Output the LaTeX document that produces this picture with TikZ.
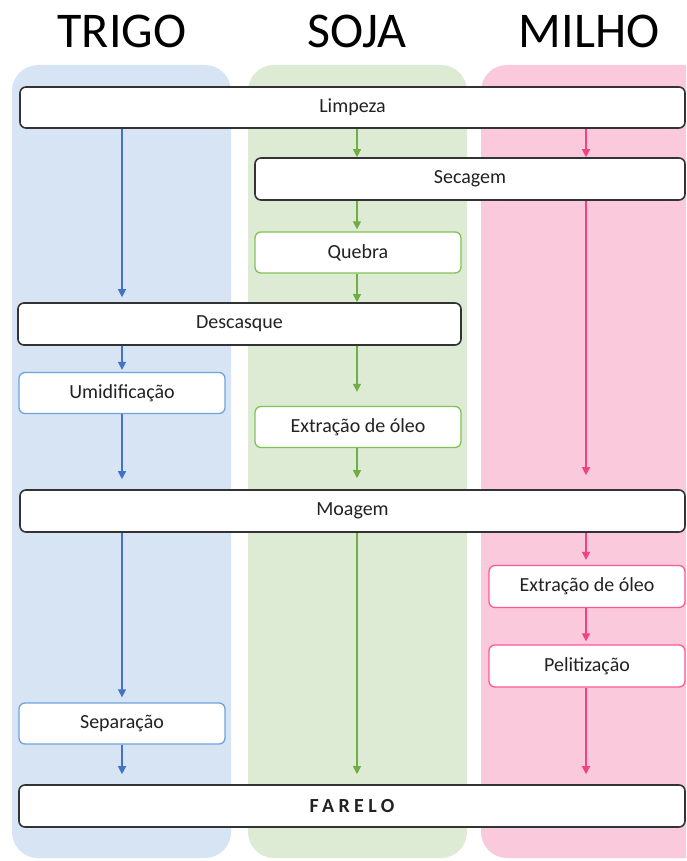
\documentclass[tikz,border=0pt]{standalone}
\usepackage{fontspec}
\setmainfont{Carlito}
\usepackage{tikz}
\usetikzlibrary{arrows.meta}
\definecolor{trigobg}{HTML}{D6E4F3}
\definecolor{sojabg}{HTML}{DDEBD4}
\definecolor{milhobg}{HTML}{FAC9DB}
\definecolor{trigoline}{HTML}{4472C4}
\definecolor{trigoedge}{HTML}{6FA3DC}
\definecolor{sojaline}{HTML}{70AD47}
\definecolor{sojaedge}{HTML}{80C257}
\definecolor{milholine}{HTML}{F2427F}
\definecolor{milhoedge}{HTML}{FF5A92}
\definecolor{boxgray}{HTML}{333333}
\definecolor{textgray}{HTML}{222222}

\begin{document}
\begin{tikzpicture}[x=1pt,y=-1pt,
    lane/.style={rounded corners=26pt},
    title/.style={font=\fontsize{50}{56}\selectfont,anchor=base,inner sep=0pt},
    mainbox/.style={draw=boxgray,line width=1.6pt,fill=white,rounded corners=6pt,
      inner sep=0pt,font=\fontsize{20}{24}\selectfont,text=textgray},
    smallbox/.style={mainbox,line width=1.3pt,minimum width=206pt,minimum height=41pt},
    flow/.style={line width=1.2pt,-{Triangle[length=8pt,width=8pt]}}]
    % Page
    \path[use as bounding box] (0,0) rectangle (686,861);
    \clip (0,0) rectangle (686,861);
    \fill[white] (0,0) rectangle (686,861);
    % Lanes
    \fill[trigobg,lane] (12,65) rectangle (231,858);
    \fill[sojabg,lane] (248,65) rectangle (467,858);
    \fill[milhobg,lane] (481,65) rectangle (712,858);
    \coordinate (laneT) at (122,0);
    \coordinate (laneS) at (357,0);
    \coordinate (laneM) at (586,0);
    % Titles
    \node[title] (trigo) at (122,48) {TRIGO};
    \node[title] (soja) at (357,48) {SOJA};
    \node[title] (milho) at (589,48) {MILHO};
    % Common steps
    \node[mainbox,minimum width=665pt,minimum height=41pt] (limpeza) at (352.5,107.5) {Limpeza};
    \node[mainbox,minimum width=430pt,minimum height=42pt] (secagem) at (470,179) {Secagem};
    \node[mainbox,minimum width=443pt,minimum height=42pt] (descasque) at (239.5,324) {Descasque};
    \node[mainbox,minimum width=665pt,minimum height=42pt] (moagem) at (352.5,511) {Moagem};
    \node[mainbox,minimum width=666pt,minimum height=42pt,
      font=\fontsize{20}{24}\selectfont\bfseries\addfontfeature{LetterSpace=22}] (farelo) at (352,806) {FARELO};
    % Trigo steps
    \node[smallbox,draw=trigoedge] (umidificacao) at (122,393) {Umidificação};
    \node[smallbox,draw=trigoedge] (separacao) at (122,723.5) {Separação};
    % Soja steps
    \node[smallbox,draw=sojaedge] (quebra) at (358,252.5) {Quebra};
    \node[smallbox,draw=sojaedge] (oleosoja) at (358,427) {Extração de óleo};
    % Milho steps
    \node[smallbox,draw=milhoedge,minimum width=196pt,minimum height=42pt] (oleomilho) at (587,586.5) {Extração de óleo};
    \node[smallbox,draw=milhoedge,minimum width=196pt,minimum height=42pt] (pelitizacao) at (587,666) {Pelitização};
    % Trigo flow
    \draw[flow,trigoline,shorten >=5pt] (limpeza.south -| laneT) -- (descasque.north -| laneT);
    \draw[flow,trigoline,shorten >=2pt] (descasque.south -| laneT) -- (umidificacao.north -| laneT);
    \draw[flow,trigoline,shorten >=10pt] (umidificacao.south -| laneT) -- (moagem.north -| laneT);
    \draw[flow,trigoline,shorten >=5pt] (moagem.south -| laneT) -- (separacao.north -| laneT);
    \draw[flow,trigoline,shorten >=10pt] (separacao.south -| laneT) -- (farelo.north -| laneT);
    % Soja flow
    \draw[flow,sojaline] (limpeza.south -| laneS) -- (secagem.north -| laneS);
    \draw[flow,sojaline,shorten >=2pt] (secagem.south -| laneS) -- (quebra.north -| laneS);
    \draw[flow,sojaline] (quebra.south -| laneS) -- (descasque.north -| laneS);
    \draw[flow,sojaline,shorten >=14pt] (descasque.south -| laneS) -- (oleosoja.north -| laneS);
    \draw[flow,sojaline,shorten >=11pt] (oleosoja.south -| laneS) -- (moagem.north -| laneS);
    \draw[flow,sojaline,shorten >=10pt] (moagem.south -| laneS) -- (farelo.north -| laneS);
    % Milho flow
    \draw[flow,milholine] (limpeza.south -| laneM) -- (secagem.north -| laneM);
    \draw[flow,milholine,shorten >=14pt] (secagem.south -| laneM) -- (moagem.north -| laneM);
    \draw[flow,milholine,shorten >=5pt] (moagem.south -| laneM) -- (oleomilho.north -| laneM);
    \draw[flow,milholine,shorten >=3pt] (oleomilho.south -| laneM) -- (pelitizacao.north -| laneM);
    \draw[flow,milholine,shorten >=10pt] (pelitizacao.south -| laneM) -- (farelo.north -| laneM);
\end{tikzpicture}
\end{document}
